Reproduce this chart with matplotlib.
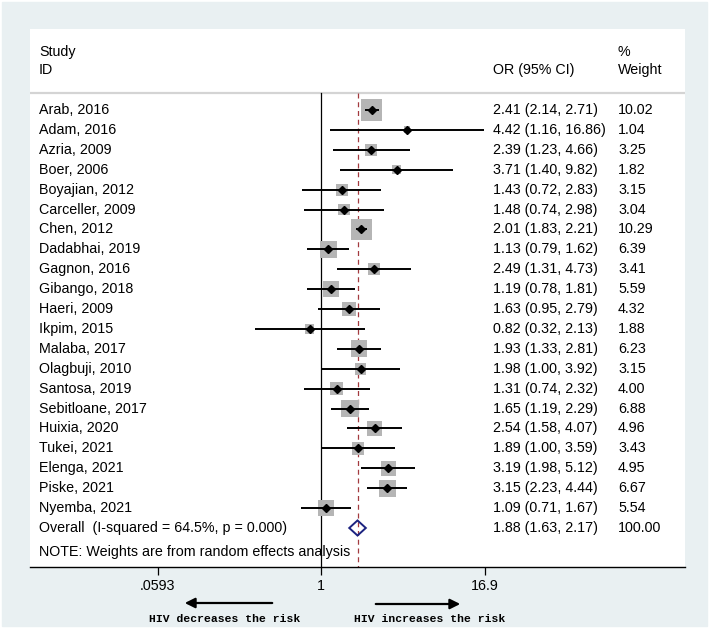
import matplotlib
matplotlib.use("Agg")
import matplotlib.pyplot as plt
from matplotlib.patches import Rectangle, Polygon, FancyArrowPatch
import numpy as np

plt.rcParams['font.family'] = ['Liberation Sans', 'DejaVu Sans']

studies = ["Arab, 2016", "Adam, 2016", "Azria, 2009", "Boer, 2006", "Boyajian, 2012",
           "Carceller, 2009", "Chen, 2012", "Dadabhai, 2019", "Gagnon, 2016", "Gibango, 2018",
           "Haeri, 2009", "Ikpim, 2015", "Malaba, 2017", "Olagbuji, 2010", "Santosa, 2019",
           "Sebitloane, 2017", "Huixia, 2020", "Tukei, 2021", "Elenga, 2021", "Piske, 2021",
           "Nyemba, 2021"]
odds = [2.41, 4.42, 2.39, 3.71, 1.43, 1.48, 2.01, 1.13, 2.49, 1.19, 1.63,
        0.82, 1.93, 1.98, 1.31, 1.65, 2.54, 1.89, 3.19, 3.15, 1.09]
lower = [2.14, 1.16, 1.23, 1.40, 0.72, 0.74, 1.83, 0.79, 1.31, 0.78, 0.95,
         0.32, 1.33, 1.00, 0.74, 1.19, 1.58, 1.00, 1.98, 2.23, 0.71]
upper = [2.71, 16.86, 4.66, 9.82, 2.83, 2.98, 2.21, 1.62, 4.73, 1.81, 2.79,
         2.13, 2.81, 3.92, 2.32, 2.29, 4.07, 3.59, 5.12, 4.44, 1.67]
weights = [10.02, 1.04, 3.25, 1.82, 3.15, 3.04, 10.29, 6.39, 3.41, 5.59, 4.32,
           1.88, 6.23, 3.15, 4.00, 6.88, 4.96, 3.43, 4.95, 6.67, 5.54]

overall_label = "Overall  (I-squared = 64.5%, p = 0.000)"
overall_or, overall_lo, overall_hi = 1.88, 1.63, 2.17
overall_weight = 100.00

tick_vals = [0.0593, 1, 16.9]
tick_labels = [".0593", "1", "16.9"]

bg = '#e9f0f2'
fig = plt.figure(figsize=(7.09, 6.28), dpi=100)
fig.patch.set_facecolor('white')
fig.patches.append(Rectangle((2 / 709, 2 / 628), 705 / 709, 624 / 628,
                             transform=fig.transFigure, color=bg, zorder=-10))

ax = fig.add_axes([30 / 709, 1 - 567 / 628, 655 / 709, 538 / 628])
ax.set_facecolor('white')
ax.set_xscale('log')
ax.set_xlim(np.exp(-5.03), np.exp(6.292))
ax.set_ylim(22.96, -4.07)

n = len(studies)
rows = np.arange(n)
fs = 10.3

# reference lines
sep_y = -0.854
ax.axhline(sep_y, color='#d4d4d4', lw=1.6, zorder=1)
ax.plot([1, 1], [sep_y, 22.96], color='black', lw=0.9, zorder=2)
ax.plot([overall_or, overall_or], [sep_y, 22.96], color='#a33a3f', lw=0.9,
        ls=(0, (4, 3)), zorder=2)

# study boxes, CIs, points
ax.scatter(odds, rows, s=[23.3 * w for w in weights], marker='s',
           color='#b5b5b5', zorder=3, linewidths=0)
for i in range(n):
    ax.plot([lower[i], upper[i]], [i, i], color='black', lw=1.4, zorder=4,
            solid_capstyle='butt')
ax.plot(odds, rows, 'D', color='black', markersize=3.6, zorder=5, ls='none')

# overall diamond
oy = n
h = 0.38
diamond = Polygon([(overall_lo, oy), (overall_or, oy - h), (overall_hi, oy),
                   (overall_or, oy + h)], closed=True, fill=False,
                  edgecolor='#1c2380', lw=1.4, zorder=6)
ax.add_patch(diamond)

# text columns
tr = ax.get_yaxis_transform()
x_study, x_or, x_w = 0.0137, 0.7069, 0.8977
ax.text(x_study, -2.91, "Study", transform=tr, fontsize=fs, va='center')
ax.text(x_study, -2.01, "ID", transform=tr, fontsize=fs, va='center')
ax.text(x_or, -2.01, "OR (95% CI)", transform=tr, fontsize=fs, va='center')
ax.text(x_w, -2.91, "%", transform=tr, fontsize=fs, va='center')
ax.text(x_w, -2.01, "Weight", transform=tr, fontsize=fs, va='center')

for i in range(n):
    ax.text(x_study, i, studies[i], transform=tr, fontsize=fs, va='center')
    ax.text(x_or, i, f"{odds[i]:.2f} ({lower[i]:.2f}, {upper[i]:.2f})",
            transform=tr, fontsize=fs, va='center')
    ax.text(x_w, i, f"{weights[i]:.2f}", transform=tr, fontsize=fs, va='center')

ax.text(x_study, oy, overall_label, transform=tr, fontsize=fs, va='center')
ax.text(x_or, oy, f"{overall_or:.2f} ({overall_lo:.2f}, {overall_hi:.2f})",
        transform=tr, fontsize=fs, va='center')
ax.text(x_w, oy, f"{overall_weight:.2f}", transform=tr, fontsize=fs, va='center')
ax.text(x_study, 22.2, "NOTE: Weights are from random effects analysis",
        transform=tr, fontsize=fs, va='center')

# axis styling
for side in ['top', 'left', 'right']:
    ax.spines[side].set_visible(False)
ax.spines['bottom'].set_linewidth(1.0)
ax.set_yticks([])
ax.set_xticks(tick_vals)
ax.set_xticklabels(tick_labels)
ax.minorticks_off()
ax.tick_params(axis='x', length=5.8, width=0.9, pad=3, labelsize=fs)

# arrows and captions
mono = ['Liberation Mono', 'DejaVu Sans Mono']
fig.patches.append(FancyArrowPatch(
    (275 / 709, 1 - 603 / 628), (182 / 709, 1 - 603 / 628), transform=fig.transFigure,
    arrowstyle='-|>,head_length=6,head_width=3', mutation_scale=1, lw=1.6, color='black'))
fig.patches.append(FancyArrowPatch(
    (373 / 709, 1 - 604 / 628), (463 / 709, 1 - 604 / 628), transform=fig.transFigure,
    arrowstyle='-|>,head_length=6,head_width=3', mutation_scale=1, lw=1.6, color='black'))
fig.text(225 / 709, 1 - 619 / 628, "HIV decreases the risk", family=mono,
         fontsize=8.2, weight='bold', ha='center', va='center')
fig.text(430 / 709, 1 - 619 / 628, "HIV increases the risk", family=mono,
         fontsize=8.2, weight='bold', ha='center', va='center')

fig.savefig('out.png', dpi=100, facecolor=fig.get_facecolor())
